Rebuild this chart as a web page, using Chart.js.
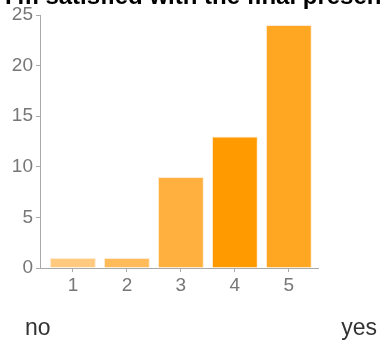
<!DOCTYPE html>
<html>
<head>
<meta charset="utf-8">
<script src="https://cdn.jsdelivr.net/npm/chart.js@4/dist/chart.umd.min.js"></script>
<style>
  html, body { margin: 0; padding: 0; background: #fff; }
  #wrap { width: 380px; height: 345px; position: relative; }
</style>
</head>
<body>
<div id="wrap"><canvas id="chart"></canvas></div>
<script>
// answers on a 1..5 scale
const categories = [1, 2, 3, 4, 5];
const counts = [1, 1, 9, 13, 24];
const barColors = ['#ffca7f', '#ffbb5a', '#ffb03e', '#ff9a00', '#ffa622'];
const yTicks = [0, 5, 10, 15, 20, 25];
const titleText = "I'm satisfied with the final presentation";
const lowLabel = 'no';
const highLabel = 'yes';

const FONT = "'Liberation Sans', Arial, sans-serif";

// title (clipped at the top) and the no / yes end labels
Chart.register({
    id: 'extraText',
    afterDraw: (chart) => {
        const c = chart.ctx;
        c.save();
        c.fillStyle = '#000';
        c.font = 'bold 24px ' + FONT;
        c.textBaseline = 'alphabetic';
        c.textAlign = 'left';
        c.fillText(titleText, 5, 4);
        c.fillStyle = '#333';
        c.font = '23px ' + FONT;
        c.textBaseline = 'middle';
        c.fillText(lowLabel, 25, 329);
        c.textAlign = 'right';
        c.fillText(highLabel, 377, 329);
        c.restore();
    }
});

new Chart(document.getElementById('chart'), {
    type: 'bar',
    data: {
        datasets: [{
            data: categories.map((c, i) => ({ x: c, y: counts[i] })),
            backgroundColor: barColors,
            borderColor: 'rgba(255, 230, 200, 0.8)',
            borderWidth: 1,
            barPercentage: 1,
            categoryPercentage: 0.85
        }]
    },
    options: {
        responsive: true,
        maintainAspectRatio: false,
        animation: false,
        layout: { padding: { top: 15, right: 62, bottom: 47, left: 0 } },
        plugins: {
            legend: { display: false },
            tooltip: { enabled: false }
        },
        scales: {
            x: {
                type: 'linear',
                offset: false,
                min: 0.39,
                max: 5.54,
                afterBuildTicks: (s) => { s.ticks = categories.map(v => ({ value: v })); },
                afterFit: (s) => { s.height = 30; },
                ticks: { color: '#777', font: { family: FONT, size: 19 }, padding: 2 },
                grid: { offset: false, drawOnChartArea: false, drawTicks: true, tickLength: 4, color: '#aaa' },
                border: { color: '#aaa', width: 1 }
            },
            y: {
                min: 0,
                max: 25,
                afterBuildTicks: (s) => { s.ticks = yTicks.map(v => ({ value: v })); },
                afterFit: (s) => { s.width = 40; },
                ticks: { color: '#777', font: { family: FONT, size: 19 }, padding: 3 },
                grid: { drawOnChartArea: false, drawTicks: true, tickLength: 4, color: '#aaa' },
                border: { color: '#aaa', width: 1 }
            }
        }
    }
});
</script>
</body>
</html>
